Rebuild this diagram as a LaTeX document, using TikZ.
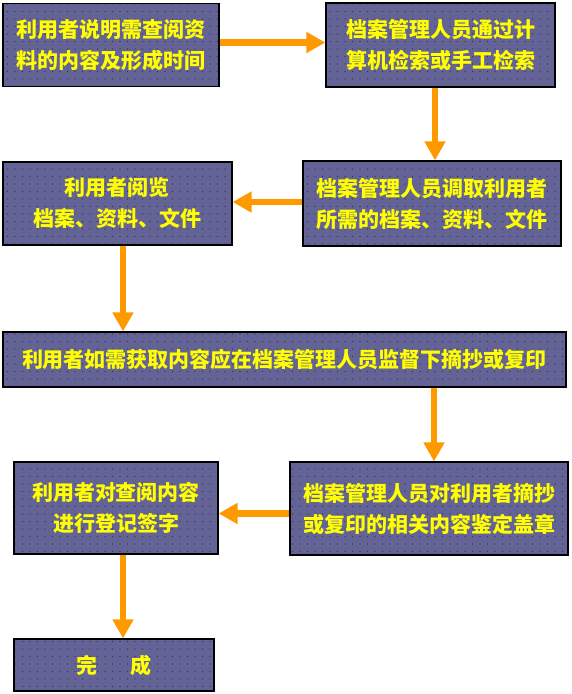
\documentclass[tikz,border=0pt]{standalone}
\usepackage{fontspec}
\newfontfamily\cjk{Noto Sans CJK SC}
\usetikzlibrary{arrows.meta,patterns.meta}
\definecolor{boxfill}{HTML}{636395}
\definecolor{boxdot}{HTML}{2E2E5A}
\definecolor{arrowc}{HTML}{FF9900}
\definecolor{txt}{HTML}{FFFF00}
\tikzset{
  flowbox/.style={draw=black, line width=1.2pt, preaction={fill=boxfill},
    pattern={Dots[distance=7.5pt, radius=0.55pt]}, pattern color=boxdot,
    inner sep=0pt, align=center, text=txt,
    font=\cjk\bfseries\fontsize{21}{31}\selectfont},
  flowarrow/.style={draw=arrowc, line width=6.5pt,
    -{Triangle[width=20pt,length=19pt]}}
}
\begin{document}
\begin{tikzpicture}[x=1pt,y=-1pt]
\useasboundingbox (0,0) rectangle (572,694);
\node[flowbox, minimum width=216pt, minimum height=83pt] (b1) at (111,45) {利用者说明需查阅资\\料的内容及形成时间};
\node[flowbox, minimum width=229pt, minimum height=84pt] (b2) at (440.5,45) {档案管理人员通过计\\算机检索或手工检索};
\node[flowbox, minimum width=229pt, minimum height=83pt] (b3) at (117.5,203.5) {利用者阅览\\档案、资料、文件};
\node[flowbox, minimum width=258pt, minimum height=85pt] (b4) at (432,203.5) {档案管理人员调取利用者\\所需的档案、资料、文件};
\node[flowbox, minimum width=563pt, minimum height=55pt] (b5) at (284.5,359.5) {利用者如需获取内容应在档案管理人员监督下摘抄或复印};
\node[flowbox, minimum width=278pt, minimum height=93pt] (b6) at (429,508.5) {档案管理人员对利用者摘抄\\或复印的相关内容鉴定盖章};
\node[flowbox, minimum width=204pt, minimum height=92pt] (b7) at (116,508) {利用者对查阅内容\\进行登记签字};
\node[flowbox, minimum width=200pt, minimum height=52pt] (b8) at (114,665) {完\hspace{33pt}成};
\draw[flowarrow] ([yshift=2.5pt]b1.east) -- ([yshift=2.5pt]b1.east -| b2.west);
\draw[flowarrow] ([xshift=-5.5pt]b2.south) -- ([xshift=-5.5pt]b2.south |- b4.north);
\draw[flowarrow] ([yshift=1.5pt]b4.west) -- ([yshift=1.5pt]b4.west -| b3.east);
\draw[flowarrow] ([xshift=5.5pt]b3.south) -- ([xshift=5.5pt]b3.south |- b5.north);
\draw[flowarrow] ([xshift=434pt-284.5pt]b5.south) -- ([xshift=434pt-284.5pt]b5.south |- b6.north);
\draw[flowarrow] ([yshift=-5pt]b6.west) -- ([yshift=-5pt]b6.west -| b7.east);
\draw[flowarrow] ([xshift=7pt]b7.south) -- ([xshift=7pt]b7.south |- b8.north);
\end{tikzpicture}
\end{document}
